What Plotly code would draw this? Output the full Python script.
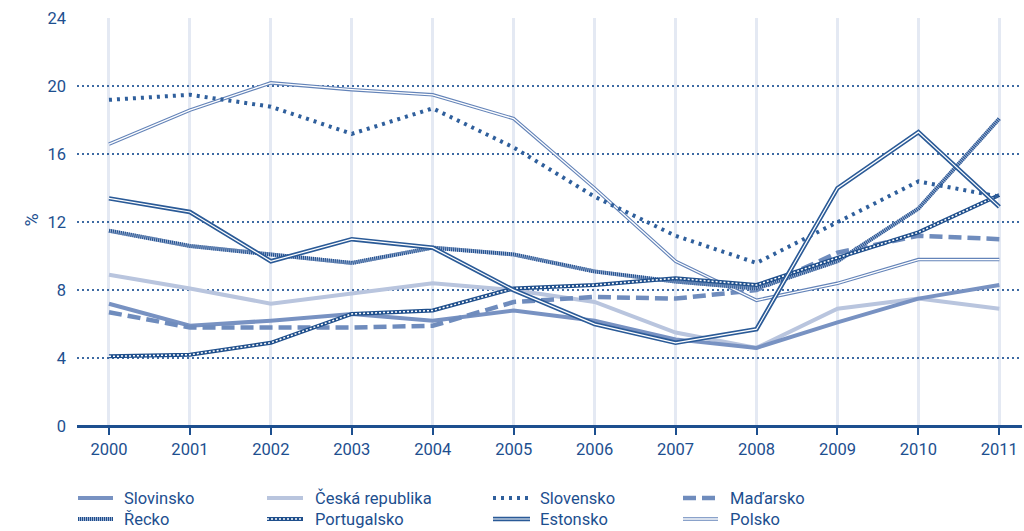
import plotly.graph_objects as go

years = [2000, 2001, 2002, 2003, 2004, 2005, 2006, 2007, 2008, 2009, 2010, 2011]
slovinsko = [7.2, 5.9, 6.2, 6.6, 6.2, 6.8, 6.2, 5.1, 4.6, 6.1, 7.5, 8.3]
ceska = [8.9, 8.1, 7.2, 7.8, 8.4, 8.0, 7.3, 5.5, 4.6, 6.9, 7.5, 6.9]
slovensko = [19.2, 19.5, 18.8, 17.2, 18.7, 16.4, 13.5, 11.2, 9.6, 12.0, 14.4, 13.5]
madarsko = [6.7, 5.8, 5.8, 5.8, 5.9, 7.3, 7.6, 7.5, 8.0, 10.2, 11.2, 11.0]
recko = [11.5, 10.6, 10.1, 9.6, 10.5, 10.1, 9.1, 8.5, 8.1, 9.7, 12.8, 18.1]
portugalsko = [4.1, 4.2, 4.9, 6.6, 6.8, 8.1, 8.3, 8.7, 8.3, 9.9, 11.4, 13.6]
estonsko = [13.4, 12.6, 9.7, 11.0, 10.5, 8.0, 6.0, 4.9, 5.7, 14.0, 17.3, 12.9]
polsko = [16.6, 18.6, 20.2, 19.8, 19.5, 18.1, 14.0, 9.7, 7.4, 8.4, 9.8, 9.8]

names = ["Slovinsko", "Česká republika", "Slovensko", "Maďarsko",
         "Řecko", "Portugalsko", "Estonsko", "Polsko"]
values = [slovinsko, ceska, slovensko, madarsko, recko, portugalsko, estonsko, polsko]
yticks = [0, 4, 8, 12, 16, 20, 24]

DARK = "#1d4f8f"
FONT = "Roboto, sans-serif"
FS = 16.5

styles = {
    "Slovinsko": [("#7892c2", 4, "solid")],
    "Česká republika": [("#b9c5de", 4, "solid")],
    "Slovensko": [("#2f5f9c", 4, "3px,5px")],
    "Maďarsko": [("#6f8cbd", 4.5, "13px,6px")],
    "Řecko": [("#9db0d3", 4, "solid"), ("#1f4f8c", 4, "1px,1px")],
    "Portugalsko": [("#1f4f8c", 4, "solid"), ("#ffffff", 1.5, "2px,2px")],
    "Estonsko": [("#2a5a97", 4.5, "solid"), ("#ffffff", 1.2, "solid")],
    "Polsko": [("#6383b8", 3.5, "solid"), ("#ffffff", 1.3, "solid")],
}

fig = go.Figure()
draw_order = ["Česká republika", "Slovinsko", "Maďarsko", "Polsko", "Řecko",
              "Portugalsko", "Slovensko", "Estonsko"]
for nm in draw_order:
    vals = values[names.index(nm)]
    for color, width, dash in styles[nm]:
        fig.add_trace(go.Scatter(x=years, y=vals, mode="lines", name=nm,
                                 showlegend=False, hoverinfo="skip",
                                 line=dict(color=color, width=width, dash=dash)))

# custom legend (paper coordinates)
x0, pw = 77, 945
y0, ph = 426, 408
sym_cols = [(78, 113), (267, 303), (493, 530), (683, 718)]
txt_cols = [122, 313, 538, 728]
rows = [498, 519]
shapes = []
annotations = []
for i, nm in enumerate(names):
    r, c = divmod(i, 4)
    py = (y0 - rows[r]) / ph
    xa = (sym_cols[c][0] - x0) / pw
    xb = (sym_cols[c][1] - x0) / pw
    for color, width, dash in styles[nm]:
        shapes.append(dict(type="line", xref="paper", yref="paper",
                           x0=xa, x1=xb, y0=py, y1=py,
                           line=dict(color=color, width=width, dash=dash)))
    annotations.append(dict(xref="paper", yref="paper", x=(txt_cols[c] - x0) / pw,
                            y=py, text=nm, showarrow=False, xanchor="left",
                            yanchor="middle", font=dict(family=FONT, size=FS, color=DARK)))

annotations.append(dict(xref="paper", yref="paper", x=(18 - x0) / pw, y=(y0 - 220) / ph,
                        text="%", textangle=-90, showarrow=False,
                        font=dict(family=FONT, size=18, color=DARK)))

fig.update_layout(
    width=1024, height=531,
    margin=dict(l=77, r=2, t=18, b=105),
    paper_bgcolor="white", plot_bgcolor="white",
    showlegend=False,
    shapes=shapes, annotations=annotations,
    xaxis=dict(range=[1999.605, 2011.28], tickmode="array", tickvals=years,
               ticktext=[str(y) for y in years],
               showgrid=True, gridcolor="#e4e9f3", gridwidth=3,
               zeroline=False, showline=False,
               ticks="outside", ticklen=8, tickwidth=2, tickcolor=DARK,
               tickfont=dict(family=FONT, size=FS, color=DARK)),
    yaxis=dict(range=[0, 24.02], tickmode="array", tickvals=yticks,
               showgrid=True, gridcolor="#3d6aa3", gridwidth=1.5, griddash="2px,3px",
               zeroline=True, zerolinecolor=DARK, zerolinewidth=2.5,
               showline=False, ticks="", ticklabelstandoff=10,
               tickfont=dict(family=FONT, size=FS, color=DARK)),
)

fig.write_html("out.html", config={"displayModeBar": False},
               post_script="document.body.style.margin='0';document.body.style.overflow='hidden';")
